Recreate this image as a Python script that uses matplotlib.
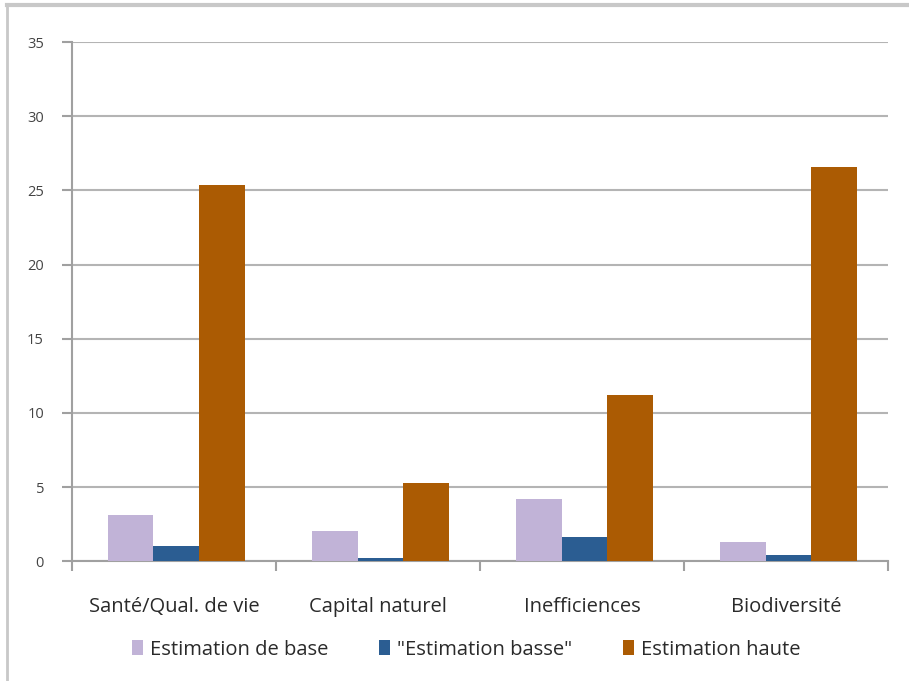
import matplotlib.pyplot as plt
import numpy as np
from matplotlib.lines import Line2D

categories = ['Santé/Qual. de vie', 'Capital naturel', 'Inefficiences', 'Biodiversité']
base = [3.1, 2.0, 4.2, 1.3]
basse = [1.0, 0.2, 1.6, 0.4]
haute = [25.4, 5.3, 11.2, 26.6]
series_names = ['Estimation de base', '"Estimation basse"', 'Estimation haute']
colors = ['#c1b3d7', '#2b5d92', '#ab5b03']

plt.rcParams['font.family'] = ['Open Sans', 'DejaVu Sans']

fig = plt.figure(figsize=(9.09, 6.81), dpi=100)
ax = fig.add_axes([0.079, 0.176, 0.898, 0.762])

x = np.arange(len(categories))
w = 0.224
for i, (vals, name, c) in enumerate(zip([base, basse, haute], series_names, colors)):
    ax.bar(x + 0.012 + (i - 1) * w, vals, width=w, color=c, label=name, zorder=3)

ax.set_xlim(-0.5, len(categories) - 0.5)
ax.set_ylim(0, 35)
ax.set_yticks(range(0, 36, 5))
ax.yaxis.grid(True, color='#b4b4b4', linewidth=1.5, zorder=0)

# category ticks sit on the boundaries between groups
ax.set_xticks(np.arange(-0.5, len(categories), 1.0))
ax.set_xticklabels([])
ax.set_xticks(x, minor=True)
ax.set_xticklabels(categories, minor=True, fontsize=14.5, color='#2a2a2a')
ax.tick_params(axis='x', which='minor', length=0, pad=26)
ax.tick_params(axis='x', which='major', length=7, width=1.5, color='#a0a0a0')
ax.tick_params(axis='y', length=7, width=1.5, color='#a0a0a0', labelsize=10.5,
               labelcolor='#444444', pad=13)

for s in ['top', 'right']:
    ax.spines[s].set_visible(False)
for s in ['left', 'bottom']:
    ax.spines[s].set_color('#a0a0a0')
    ax.spines[s].set_linewidth(1.5)

leg = fig.legend(loc='center', bbox_to_anchor=(0.513, 0.046), ncol=3, frameon=False,
                 fontsize=14.5, handlelength=0.55, handleheight=0.8, handletextpad=0.35,
                 columnspacing=2.5)
for t in leg.get_texts():
    t.set_color('#2a2a2a')

# grey frame along top and left edge
fig.add_artist(Line2D([0.008, 1.0], [0.993, 0.993], color='#c8c8c8', linewidth=3,
                      transform=fig.transFigure))
fig.add_artist(Line2D([0.008, 0.008], [0.0, 0.993], color='#c8c8c8', linewidth=2,
                      transform=fig.transFigure))

fig.savefig('out.png', dpi=100)
